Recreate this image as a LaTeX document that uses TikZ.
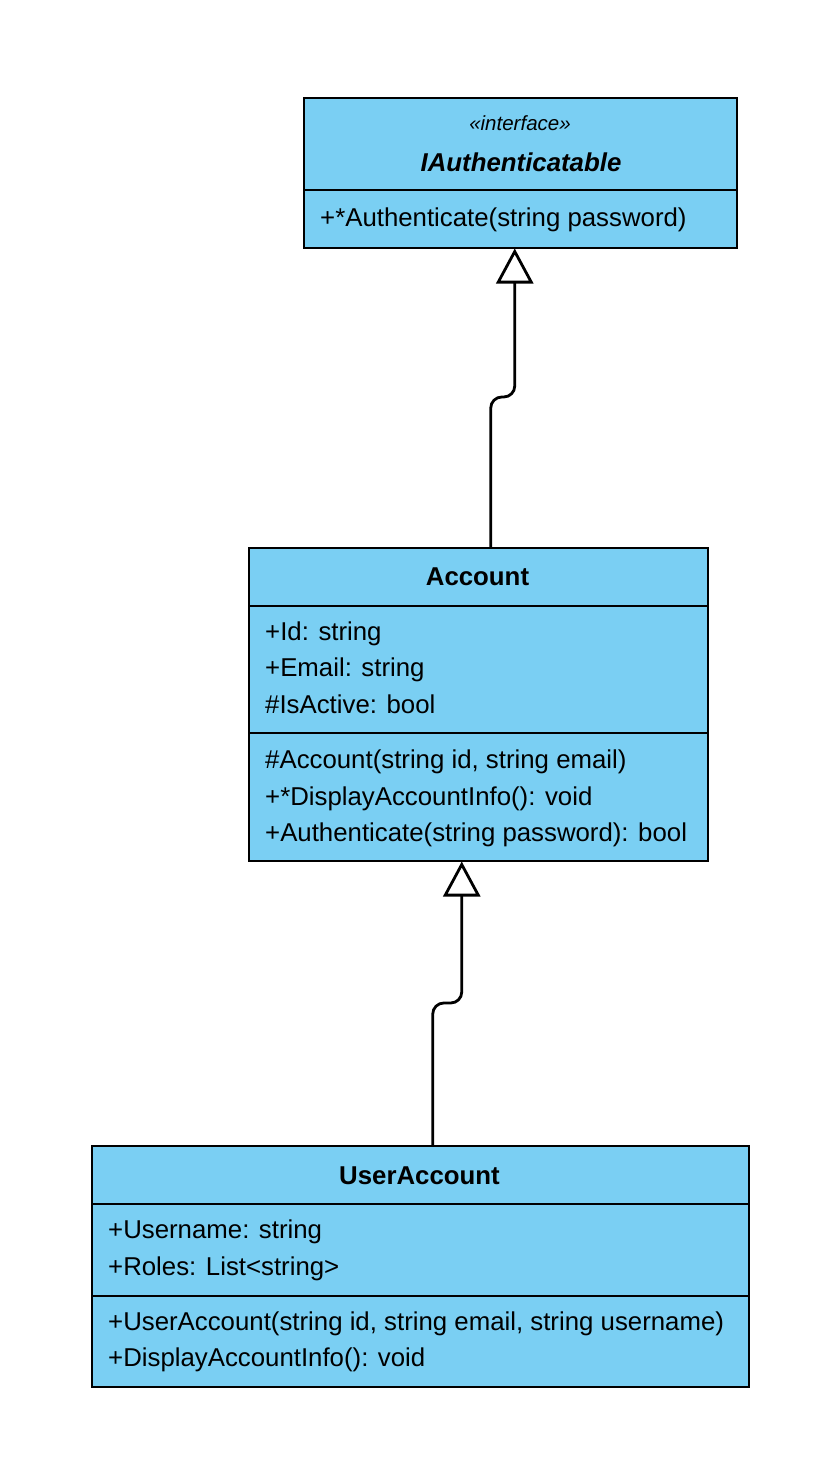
\documentclass[tikz,border=0pt]{standalone}
\usepackage{fontspec}
\setmainfont{Liberation Sans}
\usetikzlibrary{arrows.meta}
\definecolor{classblue}{RGB}{122,207,243}

\begin{document}
\begin{tikzpicture}[x=1pt,y=-1pt,
    classbox/.style={draw=black,line width=1.5pt,fill=classblue,anchor=north west,inner sep=0pt},
    member/.style={anchor=base west,inner sep=0pt,font=\fontsize{25.8}{30}\selectfont},
    classname/.style={anchor=base,inner sep=0pt,font=\fontsize{25.8}{30}\selectfont\bfseries},
    divider/.style={line width=1.5pt},
    inherit/.style={line width=2.8pt,rounded corners=11pt,-{Triangle[open,length=35pt,width=37pt]}}]
        \useasboundingbox (0,0) rectangle (840,1484);

        % interface
        \node [classbox,minimum width=433,minimum height=150] (iauth) at (303,97) {};
        \draw [divider] (iauth.west |- 0,190) -- (iauth.east |- 0,190);
        \node [anchor=base,inner sep=0pt,font=\fontsize{20.5}{24}\selectfont\itshape] (iauth-stereo) at (520,130) {«interface»};
        \node [classname,font=\fontsize{25.8}{30}\selectfont\bfseries\itshape] (iauth-name) at (521,171.5) {IAuthenticatable};
        \node [member] (iauth-m1) at (320,226.5) {+*Authenticate(string password)};

        % base class
        \node [classbox,minimum width=459,minimum height=313] (account) at (248,547) {};
        \draw [divider] (account.west |- 0,606) -- (account.east |- 0,606);
        \draw [divider] (account.west |- 0,733) -- (account.east |- 0,733);
        \node [classname] (account-name) at (477.5,585) {Account};
        \node [member] (account-a1) at (265,640) {+Id: string};
        \node [member] (account-a2) at (265,676.7) {+Email: string};
        \node [member] (account-a3) at (265,713.3) {\#IsActive: bool};
        \node [member] (account-m1) at (265,768.3) {\#Account(string id, string email)};
        \node [member] (account-m2) at (265,805) {+*DisplayAccountInfo(): void};
        \node [member] (account-m3) at (265,841.7) {+Authenticate(string password): bool};

        % derived class
        \node [classbox,minimum width=657,minimum height=241] (useracc) at (91,1145) {};
        \draw [divider] (useracc.west |- 0,1204) -- (useracc.east |- 0,1204);
        \draw [divider] (useracc.west |- 0,1296) -- (useracc.east |- 0,1296);
        \node [classname] (useracc-name) at (419.5,1184) {UserAccount};
        \node [member] (useracc-a1) at (108,1238) {+Username: string};
        \node [member] (useracc-a2) at (108,1275) {+Roles: List<string>};
        \node [member] (useracc-m1) at (108,1330) {+UserAccount(string id, string email, string username)};
        \node [member] (useracc-m2) at (108,1366.5) {+DisplayAccountInfo(): void};

        % generalisation
        \draw [inherit] ([xshift=12.5]account.north) -- ++(0,-150) -| ([xshift=-5.5]iauth.south);
        \draw [inherit] ([xshift=12.5]useracc.north) -- ++(0,-142) -| ([xshift=-16.5]account.south);
      \end{tikzpicture}
\end{document}
